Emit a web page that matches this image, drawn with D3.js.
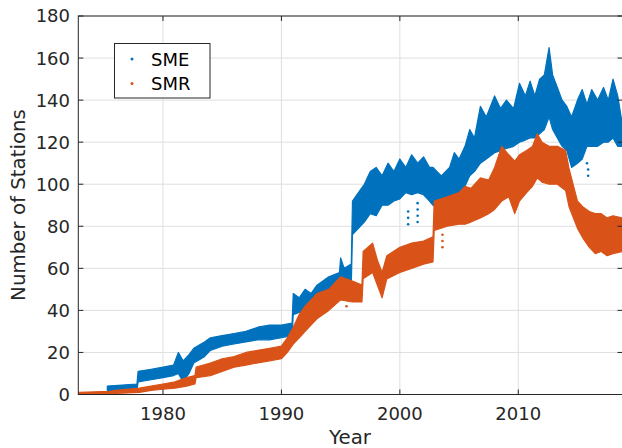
<!DOCTYPE html>
<html>
<head>
<meta charset="utf-8">
<script src="https://cdn.jsdelivr.net/npm/d3@7"></script>
<style>
  html, body { margin: 0; padding: 0; background: #fff; }
  svg { display: block; font-family: "DejaVu Sans", sans-serif; }
</style>
</head>
<body>
<svg id="chart" width="622" height="448"></svg>
<script>
// ---- data ----
const xTicks = [1980, 1990, 2000, 2010];
const yTicks = [0, 20, 40, 60, 80, 100, 120, 140, 160, 180];
const seriesNames = ["SME", "SMR"];

// SME envelope (year, low, high)
const smeYears = [1975.3, 1977.8, 1977.9, 1979, 1980, 1980.9, 1981.3, 1981.7, 1982.2, 1982.6, 1983.5, 1984, 1985, 1986, 1987, 1988, 1989, 1990, 1990.9,
  1991.0, 1991.5, 1992, 1992.5, 1993, 1994, 1994.9, 1995.0, 1995.3, 1995.9,
  1996.0, 1996.5, 1997, 1997.5, 1998, 1998.5, 1999, 1999.5, 2000, 2000.5, 2001, 2001.5, 2002, 2002.5, 2002.8, 2003.5, 2004.2, 2004.6, 2005, 2005.5, 2005.9,
  2006.3, 2006.8, 2007.3, 2008, 2008.5, 2009, 2009.6, 2010.1, 2010.6, 2011, 2011.4, 2011.8, 2012.2, 2012.6, 2012.9, 2013.3, 2013.7, 2014.1, 2014.5,
  2015, 2015.4, 2015.8, 2016.2, 2016.7, 2017.2, 2017.6, 2018, 2018.4, 2018.8];
const smeLow  = [2, 2, 6, 7, 8, 9, 10, 6, 10, 15, 18, 21, 23, 24, 25, 26, 26, 27, 28,
  38, 39, 40, 41, 43, 46, 48, 52, 51, 52,
  76, 79, 82, 86, 85, 90, 90, 92, 93, 96, 95, 96, 95, 92, 90, 87, 90, 94, 94, 99, 104,
  106, 110, 112, 115, 116, 117, 118, 120, 121, 122, 122, 124, 126, 132, 126, 122, 118, 116, 108,
  110, 112, 118, 118, 118, 120, 120, 122, 118, 118];
const smeHigh = [4, 5, 11, 12, 13, 14, 20, 16, 19, 22, 25, 27, 28, 29, 30, 32, 33, 33, 34,
  48, 46, 50, 48, 52, 56, 58, 65, 60, 62,
  92, 96, 100, 106, 108, 104, 110, 106, 112, 108, 114, 110, 113, 108, 108, 104, 108, 115, 112, 118, 126,
  122, 137, 132, 142, 136, 140, 136, 148, 142, 149, 142, 150, 152, 165, 152, 146, 140, 137, 132,
  140, 145, 138, 145, 140, 146, 140, 150, 142, 128];
// SME isolated low points
const smeOutYears = [2000.7, 2000.7, 2000.7, 2001.5, 2001.5, 2001.5, 2001.5, 2014.2, 2014.2, 2015.8, 2015.9, 2015.9];
const smeOutVals  = [81, 84, 87, 82, 85, 88, 91, 100, 105, 110, 104, 107];

// SMR envelope (year, low, high)
const smrYears = [1972.9, 1975.5, 1976, 1978, 1979, 1980, 1981, 1982, 1982.7, 1982.8, 1984, 1985, 1986, 1987, 1988, 1989, 1990, 1990.5, 1991, 1991.5,
  1992, 1993, 1994, 1995, 1996, 1996.8, 1996.9, 1997.7, 1998.1, 1998.5, 1998.9, 2000, 2001, 2002, 2002.8, 2002.9, 2004, 2005, 2005.5, 2006,
  2006.8, 2007.5, 2008, 2008.6, 2009.2, 2009.7, 2010.1, 2010.7, 2011.2, 2011.6, 2012, 2012.6, 2013.3, 2014, 2014.3, 2015, 2015.5, 2016,
  2016.5, 2017, 2017.5, 2018, 2018.8];
const smrLow  = [0, 0, 0.5, 1, 2, 2.5, 3, 4, 5, 8, 9, 11, 13, 14, 15, 16, 17, 20, 24, 27,
  30, 36, 40, 45, 44, 44, 55, 58, 52, 46, 55, 58, 60, 62, 63, 78, 80, 81, 81, 82,
  84, 86, 88, 92, 94, 86, 92, 96, 99, 103, 101, 100, 100, 97, 89, 79, 74, 70,
  67, 68, 66, 67, 68];
const smrHigh = [1, 1.5, 2, 3, 4, 5, 6, 8, 9, 13, 15, 17, 18, 20, 21, 22, 23, 27, 32, 38,
  42, 48, 50, 56, 54, 52, 68, 72, 64, 58, 66, 70, 72, 73, 75, 92, 94, 96, 99, 98,
  103, 102, 108, 118, 114, 111, 114, 116, 118, 124, 120, 118, 118, 116, 107, 92, 89, 87,
  86, 86, 84, 85, 84];
const smrOutYears = [1995.5, 2003.6, 2003.6, 2003.6];
const smrOutVals  = [42, 70, 73, 76];

const colors = ["#0072BD", "#D95319"];

// ---- layout ----
const svg = d3.select("#chart");
const pLeft = 78.3, pRight = 622.5, pTop = 16, pBottom = 394.5;
const x = d3.scaleLinear().domain([1972.85, 2018.8]).range([pLeft, pRight]);
const y = d3.scaleLinear().domain([0, 180]).range([pBottom, pTop]);
const axisColor = "#262626";

svg.append("defs").append("clipPath").attr("id", "clip")
  .append("rect").attr("x", pLeft).attr("y", pTop).attr("width", pRight - pLeft).attr("height", pBottom - pTop);

// grid
const grid = svg.append("g");
grid.selectAll("line.gx").data(xTicks).join("line")
  .attr("x1", d => x(d)).attr("x2", d => x(d)).attr("y1", pTop).attr("y2", pBottom)
  .attr("stroke", "#dfdfdf").attr("stroke-width", 1);
grid.selectAll("line.gy").data(yTicks).join("line")
  .attr("x1", pLeft).attr("x2", pRight).attr("y1", d => y(d)).attr("y2", d => y(d))
  .attr("stroke", "#dfdfdf").attr("stroke-width", 1);

// data
const plot = svg.append("g").attr("clip-path", "url(#clip)");
function band(years, lo, hi, color) {
  const pts = years.map((yr, i) => ({ t: yr, lo: lo[i], hi: hi[i] }));
  const area = d3.area().x(d => x(d.t)).y0(d => y(d.lo)).y1(d => y(d.hi));
  plot.append("path").datum(pts).attr("d", area)
    .attr("fill", color).attr("stroke", color).attr("stroke-width", 1.2).attr("stroke-linejoin", "round");
}
function dots(years, vals, color) {
  plot.append("g").selectAll("circle").data(years.map((t, i) => ({ t, v: vals[i] }))).join("circle")
    .attr("cx", d => x(d.t)).attr("cy", d => y(d.v)).attr("r", 1.3).attr("fill", color);
}
band(smeYears, smeLow, smeHigh, colors[0]);
dots(smeOutYears, smeOutVals, colors[0]);
band(smrYears, smrLow, smrHigh, colors[1]);
dots(smrOutYears, smrOutVals, colors[1]);

// axes
const ax = svg.append("g").attr("font-size", 18).attr("fill", axisColor);
const tl = 5;
const frame = svg.append("g").attr("stroke", axisColor).attr("stroke-width", 1).attr("fill", "none");
frame.append("rect").attr("x", pLeft).attr("y", pTop).attr("width", pRight - pLeft).attr("height", pBottom - pTop);
xTicks.forEach(t => {
  frame.append("line").attr("x1", x(t)).attr("x2", x(t)).attr("y1", pBottom).attr("y2", pBottom - tl);
  frame.append("line").attr("x1", x(t)).attr("x2", x(t)).attr("y1", pTop).attr("y2", pTop + tl);
});
yTicks.forEach(t => {
  frame.append("line").attr("x1", pLeft).attr("x2", pLeft + tl).attr("y1", y(t)).attr("y2", y(t));
  frame.append("line").attr("x1", pRight).attr("x2", pRight - tl).attr("y1", y(t)).attr("y2", y(t));
});
ax.selectAll("text.xt").data(xTicks).join("text")
  .attr("x", d => x(d)).attr("y", 420).attr("text-anchor", "middle").text(d => d);
ax.selectAll("text.yt").data(yTicks).join("text")
  .attr("x", 70).attr("y", d => y(d)).attr("dy", "0.36em").attr("text-anchor", "end").text(d => d);

svg.append("text").attr("x", 350).attr("y", 444).attr("text-anchor", "middle")
  .attr("font-size", 19.8).attr("fill", axisColor).text("Year");
svg.append("text").attr("transform", "translate(25,205) rotate(-90)").attr("text-anchor", "middle")
  .attr("font-size", 19.8).attr("fill", axisColor).text("Number of Stations");

// legend
const lg = svg.append("g");
lg.append("rect").attr("x", 114.5).attr("y", 43.5).attr("width", 95.5).attr("height", 54.5)
  .attr("fill", "#fff").attr("stroke", axisColor).attr("stroke-width", 1);
seriesNames.forEach((n, i) => {
  lg.append("circle").attr("cx", 132).attr("cy", 59 + i * 24.5).attr("r", 1.5).attr("fill", colors[i]);
  lg.append("text").attr("x", 151).attr("y", 65.5 + i * 24.5).attr("font-size", 18).attr("fill", "#000").text(n);
});
</script>
</body>
</html>
